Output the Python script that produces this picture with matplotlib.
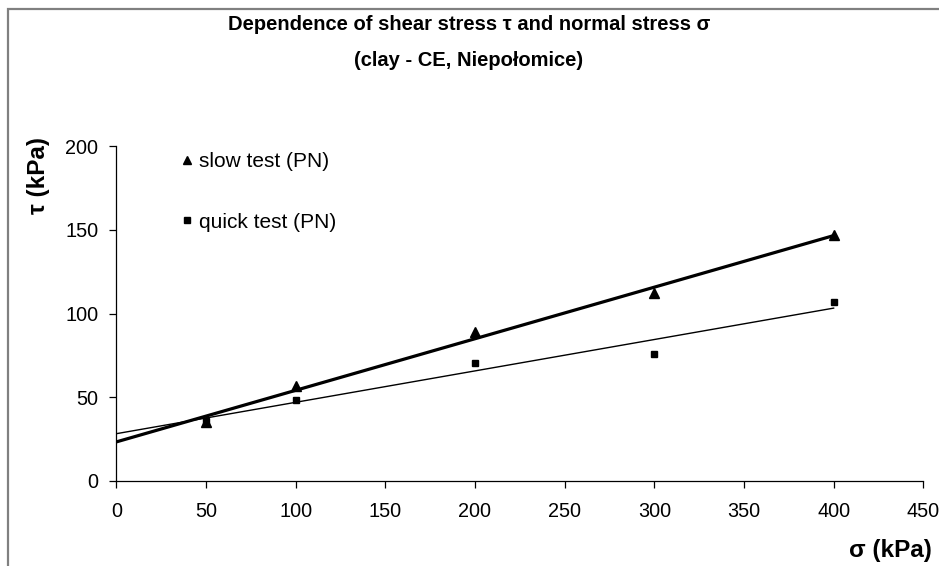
import numpy as np
import matplotlib.pyplot as plt
from matplotlib.patches import Rectangle

plt.rcParams['font.family'] = ['Liberation Sans', 'DejaVu Sans']

### Data
sigma = [50, 100, 200, 300, 400]
tau_slow = [35, 57, 89, 112, 147]
tau_quick = [36, 48.5, 70.5, 76, 107]
x_ticks = [0, 50, 100, 150, 200, 250, 300, 350, 400, 450]
y_ticks = [0, 50, 100, 150, 200]

fig = plt.figure(figsize=(9.39, 5.66), dpi=100)

## Excel-like chart border (only left and top visible)
fig.patches.append(Rectangle((8 / 939, -0.1), 1.2, 1 - 9 / 566 + 0.1,
                             transform=fig.transFigure, fill=False,
                             edgecolor='#808080', linewidth=1.6))

ax = fig.add_axes([116.3 / 939, 1 - 481 / 566, (923.3 - 116.3) / 939, (481 - 146) / 566])

## Linear trend lines from 0 to 400
xs = np.array([0, 400])
p_slow = np.polyfit(sigma, tau_slow, 1)
p_quick = np.polyfit(sigma, tau_quick, 1)
ax.plot(xs, np.polyval(p_slow, xs), color='black', lw=2.3, zorder=2)
ax.plot(xs, np.polyval(p_quick, xs), color='black', lw=1.0, zorder=2)

ax.plot(sigma, tau_slow, '^', color='black', ms=6.5, ls='none', label='slow test (PN)', zorder=3)
ax.plot(sigma, tau_quick, 's', color='black', ms=4.8, ls='none', label='quick test (PN)', zorder=3)

ax.set_xlim(0, 450)
ax.set_ylim(0, 200)
ax.set_xticks(x_ticks)
ax.set_yticks(y_ticks)
ax.tick_params(direction='out', length=5, width=0.9, labelsize=14.3, colors='black')
ax.tick_params(axis='x', pad=10)
ax.tick_params(axis='y', pad=8)
ax.spines['top'].set_visible(False)
ax.spines['right'].set_visible(False)
for s in ['left', 'bottom']:
    ax.spines[s].set_linewidth(0.9)

leg = ax.legend(loc='upper left', bbox_to_anchor=(0.0814, 0.982), frameon=False,
                fontsize=15, handlelength=0.5, handletextpad=0.3, labelspacing=2.0,
                borderpad=0, borderaxespad=0, markerscale=0.85)

fig.text(469 / 939, 1 - 24 / 566, 'Dependence of shear stress \u03c4 and normal stress \u03c3',
         ha='center', va='center', fontsize=14.5, fontweight='bold')
fig.text(469 / 939, 1 - 60 / 566, '(clay - CE, Niepo\u0142omice)',
         ha='center', va='center', fontsize=14.5, fontweight='bold')
fig.text(39 / 939, 1 - 176 / 566, '\u03c4 (kPa)', rotation=90, ha='center', va='center',
         fontsize=17.5, fontweight='bold')
fig.text(932 / 939, 1 - 550 / 566, '\u03c3 (kPa)', ha='right', va='center',
         fontsize=17.5, fontweight='bold')

fig.savefig('out.png', dpi=100)
